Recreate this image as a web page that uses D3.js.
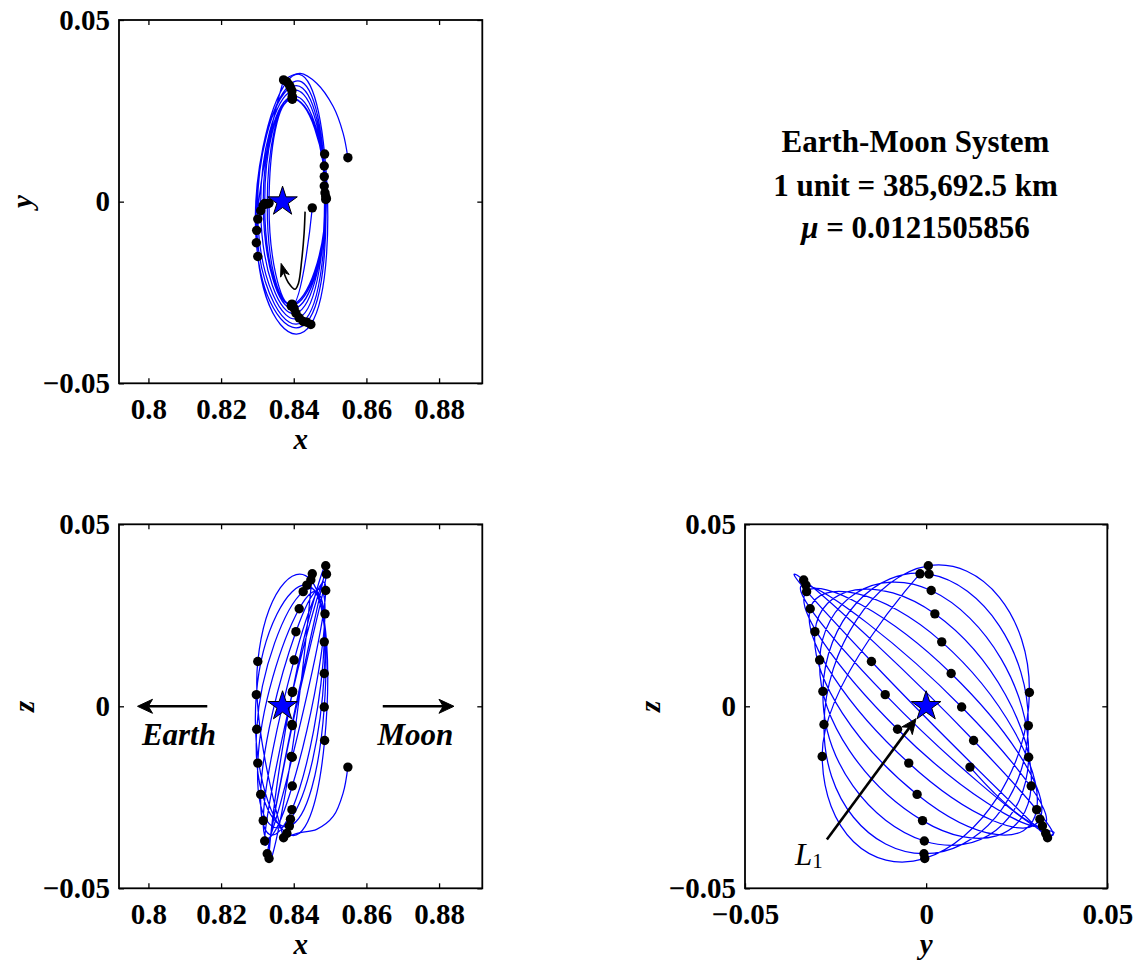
<!DOCTYPE html>
<html>
<head>
<meta charset="utf-8">
<script src="https://cdn.jsdelivr.net/npm/d3@7"></script>
<style>
  body { margin: 0; background: #fff; }
  svg text { font-family: "Liberation Serif", "Times New Roman", Times, serif; font-weight: bold; fill: #000; }
</style>
</head>
<body>
<svg id="fig" width="1142" height="961"></svg>
<script>
// Trajectory samples, one every ~quarter of the in-plane period (time ordered):
// start, then for each revolution: y-min, x-min, y-max, x-max crossings.
const trajX = [0.8451,
  0.8393, 0.8332, 0.8396, 0.8488,
  0.8395, 0.8327, 0.8396, 0.8490,
  0.8397, 0.8320, 0.8396, 0.8488,
  0.8401, 0.8316, 0.8396, 0.8486,
  0.8406, 0.8309, 0.8395, 0.8484,
  0.8415, 0.8301, 0.8391, 0.8484,
  0.8426, 0.8298, 0.8388, 0.8484,
  0.8436, 0.8297, 0.8381, 0.8485,
  0.8447, 0.8301, 0.8372];
const trajY = [-0.0017,
  -0.0287, -0.0004, 0.0285, 0.0006,
  -0.0282, -0.0006, 0.0282, 0.0008,
  -0.0285, -0.0005, 0.0283, 0.0014,
  -0.0294, -0.0010, 0.0290, 0.0024,
  -0.0307, -0.0025, 0.0305, 0.0043,
  -0.0320, -0.0048, 0.0314, 0.0069,
  -0.0330, -0.0079, 0.0321, 0.0098,
  -0.0332, -0.0113, 0.0330, 0.0131,
  -0.0338, -0.0151, 0.0335];
const trajZ = [0.0364,
  -0.0138, -0.0418, 0.0038, 0.0386,
  -0.0050, -0.0405, -0.0053, 0.0363,
  0.0041, -0.0370, -0.0140, 0.0318,
  0.0127, -0.0314, -0.0219, 0.0254,
  0.0205, -0.0242, -0.0284, 0.0177,
  0.0268, -0.0156, -0.0310, 0.0090,
  0.0315, -0.0063, -0.0329, -0.0002,
  0.0333, 0.0032, -0.0349, -0.0094,
  0.0347, 0.0123, -0.0361];

// Departure leg after the last revolution (ends at the final marker)
const departX = [0.8372, 0.8418, 0.8463, 0.8509, 0.8536, 0.8549];
const departY = [0.0335, 0.0353, 0.0326, 0.0261, 0.0188, 0.0121];
const departZ = [-0.0361, -0.0347, -0.0338, -0.0302, -0.0238, -0.0167];

// Libration point L1 (Earth-Moon)
const libX = [0.83692], libY = [0], libZ = [0];

// Direction-of-motion arrow in the x-y view
const motionArrowX = [0.84312, 0.84285, 0.8422, 0.84128, 0.84037, 0.83853, 0.83734, 0.83652];
const motionArrowY = [-0.00275, -0.0087, -0.0160, -0.0225, -0.0241, -0.0223, -0.0197, -0.0170];

// Tick values and labels
const xTicks = [0.8, 0.82, 0.84, 0.86, 0.88];
const xTickLabels = ["0.8", "0.82", "0.84", "0.86", "0.88"];
const vTicks = [-0.05, 0, 0.05];
const vTickLabels = ["\u22120.05", "0", "0.05"];
const yzTicks = [-0.05, 0, 0.05];
const yzTickLabels = ["\u22120.05", "0", "0.05"];

const infoLines = ["Earth-Moon System", "1 unit = 385,692.5 km", "= 0.0121505856"];

const BLUE = "#0000ff";
const svg = d3.select("#fig");
const coords = { x: trajX, y: trajY, z: trajZ };
const dep = { x: departX, y: departY, z: departZ };
const lib = { x: libX, y: libY, z: libZ };

function arrowHead(g, x1, y1, x2, y2, len, wid) {
  const dx = x2 - x1, dy = y2 - y1, L = Math.hypot(dx, dy);
  const ux = dx / L, uy = dy / L, nx = -uy, ny = ux;
  const bx = x2 - ux * len, by = y2 - uy * len;
  const kx = x2 - ux * len * 0.72, ky = y2 - uy * len * 0.72;
  g.append("path")
    .attr("d", `M${x2},${y2}L${bx + nx * wid / 2},${by + ny * wid / 2}L${kx},${ky}L${bx - nx * wid / 2},${by - ny * wid / 2}Z`)
    .attr("fill", "#000").attr("stroke", "#000").attr("stroke-width", 1).attr("stroke-linejoin", "miter");
  return [kx, ky];
}

function straightArrow(g, x1, y1, x2, y2, len, wid, sw) {
  const [kx, ky] = arrowHead(g, x1, y1, x2, y2, len, wid);
  g.append("line").attr("x1", x1).attr("y1", y1).attr("x2", kx).attr("y2", ky)
    .attr("stroke", "#000").attr("stroke-width", sw);
}

const panels = [
  { hk: "x", vk: "y", hDom: [0.7919, 0.8919], vDom: [-0.05, 0.05], left: 119, top: 20, w: 363.3, h: 363.3,
    hT: xTicks, hTL: xTickLabels, vT: vTicks, vTL: vTickLabels, hLab: "x", vLab: "y", vLabX: 32 },
  { hk: "x", vk: "z", hDom: [0.7919, 0.8919], vDom: [-0.05, 0.05], left: 119, top: 524.3, w: 363.3, h: 364,
    hT: xTicks, hTL: xTickLabels, vT: vTicks, vTL: vTickLabels, hLab: "x", vLab: "z", vLabX: 34 },
  { hk: "y", vk: "z", hDom: [-0.05, 0.05], vDom: [-0.05, 0.05], left: 745, top: 524.3, w: 362.3, h: 364,
    hT: yzTicks, hTL: yzTickLabels, vT: vTicks, vTL: vTickLabels, hLab: "y", vLab: "z", vLabX: 660 }
];

panels.forEach((p, pi) => {
  const sx = d3.scaleLinear().domain(p.hDom).range([p.left, p.left + p.w]);
  const sy = d3.scaleLinear().domain(p.vDom).range([p.top + p.h, p.top]);
  const g = svg.append("g");

  // axes box and inward ticks
  const styleAxis = (sel) => {
    sel.select(".domain").remove();
    sel.attr("font-family", null).attr("font-size", null);
    sel.selectAll(".tick line").attr("stroke", "#000").attr("stroke-width", 1.3);
    sel.selectAll(".tick text").style("font-size", "29px");
  };
  g.append("g").attr("transform", `translate(0,${p.top + p.h})`)
    .call(d3.axisBottom(sx).tickValues(p.hT).tickFormat((d, i) => p.hTL[i]).tickSizeInner(-5).tickSizeOuter(0).tickPadding(15))
    .call(styleAxis);
  g.append("g").attr("transform", `translate(0,${p.top})`)
    .call(d3.axisTop(sx).tickValues(p.hT).tickFormat("").tickSizeInner(-5).tickSizeOuter(0))
    .call(styleAxis);
  g.append("g").attr("transform", `translate(${p.left},0)`)
    .call(d3.axisLeft(sy).tickValues(p.vT).tickFormat((d, i) => p.vTL[i]).tickSizeInner(-5).tickSizeOuter(0).tickPadding(9))
    .call(styleAxis);
  g.append("g").attr("transform", `translate(${p.left + p.w},0)`)
    .call(d3.axisRight(sy).tickValues(p.vT).tickFormat("").tickSizeInner(-5).tickSizeOuter(0))
    .call(styleAxis);
  g.append("rect").attr("x", p.left).attr("y", p.top).attr("width", p.w).attr("height", p.h)
    .attr("fill", "none").attr("stroke", "#000").attr("stroke-width", 1.8);

  // axis labels
  g.append("text").attr("x", p.left + p.w / 2).attr("y", p.top + p.h + 66)
    .attr("text-anchor", "middle").style("font-size", "29px").style("font-style", "italic").text(p.hLab);
  g.append("text").attr("transform", `translate(${p.vLabX},${p.top + p.h / 2}) rotate(-90)`)
    .attr("text-anchor", "middle").style("font-size", "29px").style("font-style", "italic").text(p.vLab);

  // trajectory
  const H = coords[p.hk], V = coords[p.vk];
  const pts = H.map((d, i) => [H[i], V[i]]);
  const line = d3.line().x(d => sx(d[0])).y(d => sy(d[1])).curve(d3.curveCardinal.tension(-0.57));
  g.append("path").attr("d", line(pts)).attr("fill", "none").attr("stroke", BLUE).attr("stroke-width", 1.25);
  const dpts = dep[p.hk].map((d, i) => [dep[p.hk][i], dep[p.vk][i]]);
  const dline = d3.line().x(d => sx(d[0])).y(d => sy(d[1])).curve(d3.curveCatmullRom.alpha(0.5));
  g.append("path").attr("d", dline(dpts)).attr("fill", "none").attr("stroke", BLUE).attr("stroke-width", 1.25);

  // markers
  const mpts = pts.concat([dpts[dpts.length - 1]]);
  g.selectAll("circle.m").data(mpts).join("circle").attr("class", "m")
    .attr("cx", d => sx(d[0])).attr("cy", d => sy(d[1])).attr("r", 4.7).attr("fill", "#000");

  // L1 star
  g.append("path").attr("d", d3.symbol(d3.symbolStar, 270)())
    .attr("transform", `translate(${sx(lib[p.hk][0])},${sy(lib[p.vk][0])})`)
    .attr("fill", BLUE).attr("stroke", "#000").attr("stroke-width", 1);

  // annotations
  if (pi === 0) {
    const apts = motionArrowX.map((d, i) => [sx(motionArrowX[i]), sy(motionArrowY[i])]);
    const n = apts.length;
    const [kx, ky] = arrowHead(g, apts[n - 2][0], apts[n - 2][1], apts[n - 1][0], apts[n - 1][1], 13, 9);
    const shaft = apts.slice(0, n - 1).concat([[kx, ky]]);
    g.append("path").attr("d", d3.line().curve(d3.curveCatmullRom.alpha(0.5))(shaft))
      .attr("fill", "none").attr("stroke", "#000").attr("stroke-width", 1.6);
  }
  if (pi === 1) {
    straightArrow(g, sx(0.8162), sy(0), sx(0.7970), sy(0), 15, 14, 2.6);
    straightArrow(g, sx(0.8645), sy(0), sx(0.8841), sy(0), 15, 14, 2.6);
    g.append("text").attr("x", sx(0.8084)).attr("y", sy(-0.0105)).attr("text-anchor", "middle")
      .style("font-size", "31px").style("font-style", "italic").text("Earth");
    g.append("text").attr("x", sx(0.8735)).attr("y", sy(-0.0105)).attr("text-anchor", "middle")
      .style("font-size", "31px").style("font-style", "italic").text("Moon");
  }
  if (pi === 2) {
    straightArrow(g, sx(-0.0274), sy(-0.0366), sx(-0.0028), sy(-0.0034), 15, 13, 2.6);
    const t = g.append("text").attr("x", sx(-0.0362)).attr("y", sy(-0.0436))
      .style("font-weight", "normal");
    t.append("tspan").style("font-style", "italic").style("font-size", "31px").text("L");
    t.append("tspan").style("font-size", "21px").attr("dy", 3).text("1");
  }
});

// system parameters
const info = svg.append("g").attr("text-anchor", "middle");
info.append("text").attr("x", 915.5).attr("y", 152).style("font-size", "31px").text(infoLines[0]);
info.append("text").attr("x", 915.5).attr("y", 196).style("font-size", "31px").text(infoLines[1]);
const mu = info.append("text").attr("x", 915.5).attr("y", 238).style("font-size", "31px");
mu.append("tspan").style("font-style", "italic").text("\u03bc ");
mu.append("tspan").text(infoLines[2]);
</script>
</body>
</html>
